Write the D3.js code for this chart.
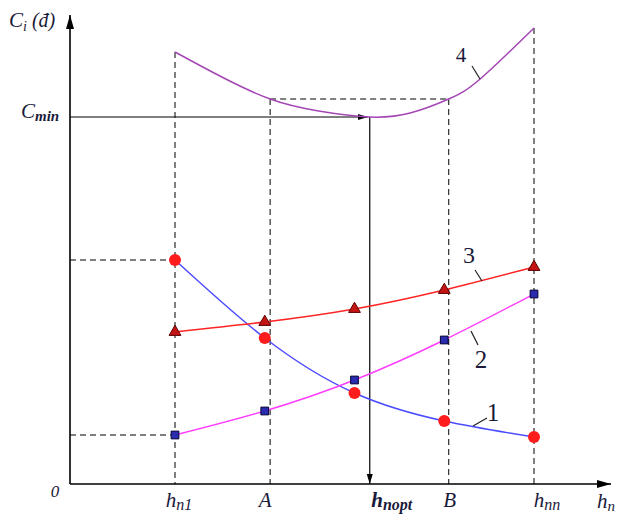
<!DOCTYPE html>
<html>
<head>
<meta charset="utf-8">
<script src="https://cdn.jsdelivr.net/npm/d3@7"></script>
<style>
  body { margin: 0; background: #fff; }
  svg { display: block; }
  text { font-family: "Liberation Serif", "Times New Roman", serif; fill: #1a1a3a; }
</style>
</head>
<body>
<svg id="svg0" width="618" height="521"></svg>
<script>

// data (h along x, cost along y)
var hPoints = [1, 2, 3, 4, 5];
var curve1 = [22.4, 14.6, 9.1, 6.3, 4.7];
var curve2 = [4.9, 7.3, 10.4, 14.4, 19.0];
var curve3 = [15.2, 16.2, 17.5, 19.4, 21.7];
var curve4H = [1, 1.5, 2.06, 2.6, 3.17, 3.62, 4.05, 4.4, 5];
var curve4 = [43.2, 40.8, 38.5, 37.3, 36.7, 37.1, 38.5, 40.5, 45.6];

var hN1 = 1, hA = 2.06, hOpt = 3.17, hB = 4.05, hNN = 5;
var cMin = 36.7;
var cAB = 38.5;

var svg = d3.select('#svg0');

var originX = 70, originY = 484;

var x = d3.scaleLinear()
    .domain([1, 5])
    .range([175, 534]);

var y = d3.scaleLinear()
    .domain([0, 46.8])
    .range([originY, 16]);

// arrow heads
var defs = svg.append('defs');
defs.append('marker')
    .attr('id', 'arrow')
    .attr('viewBox', '0 0 14 10')
    .attr('refX', 14)
    .attr('refY', 5)
    .attr('markerWidth', 14)
    .attr('markerHeight', 10)
    .attr('markerUnits', 'userSpaceOnUse')
    .attr('orient', 'auto')
    .append('path')
    .attr('d', 'M0,1 L14,5 L0,9 Z')
    .attr('fill', '#000');
defs.append('marker')
    .attr('id', 'arrowSmall')
    .attr('viewBox', '0 0 10 8')
    .attr('refX', 10)
    .attr('refY', 4)
    .attr('markerWidth', 10)
    .attr('markerHeight', 8)
    .attr('markerUnits', 'userSpaceOnUse')
    .attr('orient', 'auto')
    .append('path')
    .attr('d', 'M0,1 L10,4 L0,7 Z')
    .attr('fill', '#000');

// dashed guide lines
var dashed = svg.append('g')
    .attr('stroke', '#000')
    .attr('stroke-width', 1)
    .attr('stroke-dasharray', '6,4')
    .attr('fill', 'none');

dashed.append('line')
    .attr('x1', x(hN1)).attr('x2', x(hN1))
    .attr('y1', y(curve4[0])).attr('y2', originY);
dashed.append('line')
    .attr('x1', x(hA)).attr('x2', x(hA))
    .attr('y1', y(cAB)).attr('y2', originY);
dashed.append('line')
    .attr('x1', x(hB)).attr('x2', x(hB))
    .attr('y1', y(cAB)).attr('y2', originY);
dashed.append('line')
    .attr('x1', x(hNN)).attr('x2', x(hNN))
    .attr('y1', y(curve4[curve4.length - 1])).attr('y2', originY);
dashed.append('line')
    .attr('x1', x(hA)).attr('x2', x(hB))
    .attr('y1', y(cAB)).attr('y2', y(cAB));
dashed.append('line')
    .attr('x1', originX).attr('x2', x(hN1))
    .attr('y1', y(curve1[0])).attr('y2', y(curve1[0]));
dashed.append('line')
    .attr('x1', originX).attr('x2', x(hN1))
    .attr('y1', y(curve2[0])).attr('y2', y(curve2[0]));

// axes
svg.append('line')
    .attr('x1', originX).attr('y1', originY)
    .attr('x2', originX).attr('y2', 15)
    .attr('stroke', '#000').attr('stroke-width', 1.6)
    .attr('marker-end', 'url(#arrow)');
svg.append('line')
    .attr('x1', originX).attr('y1', originY)
    .attr('x2', 611).attr('y2', originY)
    .attr('stroke', '#000').attr('stroke-width', 1.6)
    .attr('marker-end', 'url(#arrow)');

// Cmin arrows
svg.append('line')
    .attr('x1', originX).attr('y1', y(cMin))
    .attr('x2', x(hOpt) - 2).attr('y2', y(cMin))
    .attr('stroke', '#000').attr('stroke-width', 1.2)
    .attr('marker-end', 'url(#arrowSmall)');
svg.append('line')
    .attr('x1', x(hOpt)).attr('y1', y(cMin))
    .attr('x2', x(hOpt)).attr('y2', originY)
    .attr('stroke', '#000').attr('stroke-width', 1.2)
    .attr('marker-end', 'url(#arrowSmall)');

// curves
var line = d3.line()
    .x(function(d){ return x(d[0]); })
    .y(function(d){ return y(d[1]); })
    .curve(d3.curveNatural);

function pairs(hs, vs) {
    return hs.map(function(h, i){ return [h, vs[i]]; });
}

var series = [
    {vals: curve1, color: '#4a4aff'},
    {vals: curve2, color: '#ff3cff'},
    {vals: curve3, color: '#ff2424'}
];

series.forEach(function(s){
    svg.append('path')
        .datum(pairs(hPoints, s.vals))
        .attr('d', line)
        .attr('fill', 'none')
        .attr('stroke', s.color)
        .attr('stroke-width', 1.4);
});

svg.append('path')
    .datum(pairs(curve4H, curve4))
    .attr('d', line)
    .attr('fill', 'none')
    .attr('stroke', '#a446b4')
    .attr('stroke-width', 1.5);

// markers
svg.selectAll('circle.c1')
    .data(pairs(hPoints, curve1))
    .enter()
    .append('circle')
    .attr('class', 'c1')
    .attr('cx', function(d){ return x(d[0]); })
    .attr('cy', function(d){ return y(d[1]); })
    .attr('r', 6)
    .attr('fill', '#ff1c1c');

svg.selectAll('path.c2')
    .data(pairs(hPoints, curve2))
    .enter()
    .append('path')
    .attr('class', 'c2')
    .attr('d', d3.symbol().type(d3.symbolSquare).size(60))
    .attr('transform', function(d){ return 'translate(' + x(d[0]) + ',' + y(d[1]) + ')'; })
    .attr('fill', '#2b2bb0')
    .attr('stroke', '#000033')
    .attr('stroke-width', 1);

svg.selectAll('path.c3')
    .data(pairs(hPoints, curve3))
    .enter()
    .append('path')
    .attr('class', 'c3')
    .attr('d', d3.symbol().type(d3.symbolTriangle).size(60))
    .attr('transform', function(d){ return 'translate(' + x(d[0]) + ',' + y(d[1]) + ')'; })
    .attr('fill', '#c41414')
    .attr('stroke', '#5a0000')
    .attr('stroke-width', 1);

// curve labels with leaders
var curveLabels = [
    {t: '1', x1: 473, y1: 426, x2: 487, y2: 418, tx: 493, ty: 421, fs: 25},
    {t: '2', x1: 471, y1: 331, x2: 478, y2: 345, tx: 481, ty: 368, fs: 25},
    {t: '3', x1: 482, y1: 281, x2: 475, y2: 270, tx: 469, ty: 263, fs: 24},
    {t: '4', x1: 480, y1: 79, x2: 472, y2: 66, tx: 461, ty: 62, fs: 21}
];
curveLabels.forEach(function(c){
    svg.append('line')
        .attr('x1', c.x1).attr('y1', c.y1)
        .attr('x2', c.x2).attr('y2', c.y2)
        .attr('stroke', '#222').attr('stroke-width', 1.2);
    svg.append('text')
        .attr('x', c.tx).attr('y', c.ty)
        .attr('text-anchor', 'middle')
        .attr('font-size', c.fs)
        .text(c.t);
});

// axis titles and labels
var yTitle = svg.append('text')
    .attr('x', 9).attr('y', 27)
    .attr('font-style', 'italic')
    .attr('font-size', 21);
yTitle.append('tspan').text('C');
yTitle.append('tspan').attr('font-size', 14).attr('dy', 4).text('i');
yTitle.append('tspan').attr('font-size', 20).attr('dy', -4).attr('dx', 5).text('(đ)');

var cminLabel = svg.append('text')
    .attr('x', 21).attr('y', 118)
    .attr('font-style', 'italic')
    .attr('font-size', 21);
cminLabel.append('tspan').text('C');
cminLabel.append('tspan').attr('font-size', 15).attr('font-weight', 'bold').attr('dy', 3).text('min');

svg.append('text')
    .attr('x', 55).attr('y', 497)
    .attr('text-anchor', 'middle')
    .attr('font-style', 'italic')
    .attr('font-size', 17)
    .text('0');

var xLabels = [
    {h: hN1, main: 'h', sub: 'n1', bold: false, dx: 4},
    {h: hA, main: 'A', sub: '', bold: false, dx: -5},
    {h: hOpt, main: 'h', sub: 'nopt', bold: true, dx: 22},
    {h: hB, main: 'B', sub: '', bold: false, dx: 1},
    {h: hNN, main: 'h', sub: 'nn', bold: false, dx: 13}
];
xLabels.forEach(function(l){
    var t = svg.append('text')
        .attr('x', x(l.h) + l.dx).attr('y', 507)
        .attr('text-anchor', 'middle')
        .attr('font-style', 'italic')
        .attr('font-weight', l.bold ? 'bold' : 'normal')
        .attr('font-size', 21);
    t.append('tspan').text(l.main);
    if (l.sub) t.append('tspan').attr('font-size', 16).attr('dy', 3).text(l.sub);
});

var hn = svg.append('text')
    .attr('x', 597).attr('y', 508)
    .attr('font-style', 'italic')
    .attr('font-size', 21);
hn.append('tspan').text('h');
hn.append('tspan').attr('font-size', 15).attr('dy', 3).text('n');

</script>
</body>
</html>
